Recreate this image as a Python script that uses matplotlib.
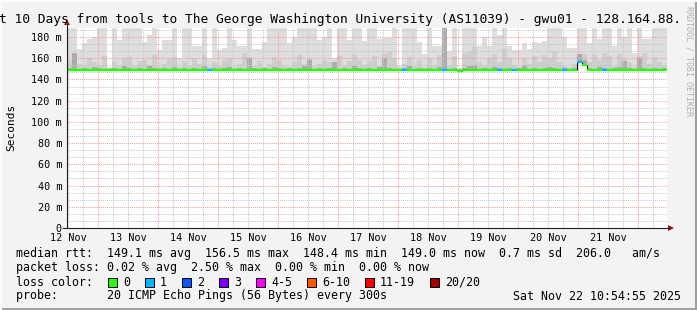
import matplotlib
matplotlib.use('Agg')
import matplotlib.pyplot as plt
from matplotlib.patches import Rectangle, Polygon
import numpy as np

# ---------------- data ----------------
title = "t 10 Days from tools to The George Washington University (AS11039) - gwu01 - 128.164.88."
day_labels = ["12 Nov", "13 Nov", "14 Nov", "15 Nov", "16 Nov", "17 Nov", "18 Nov", "19 Nov", "20 Nov", "21 Nov"]
day_label_pos = [12.5, 13.5, 14.5, 15.5, 16.5, 17.5, 18.5, 19.5, 20.5, 21.5]
y_ticks = [0, 20, 40, 60, 80, 100, 120, 140, 160, 180]
start_day = 12.479          # left edge of the graph (day of November)
step_days = 1 / 12          # 2 hour consolidation step

# smoke: top of lightest band (max ping, ms)
smoke_max = [
    195, 195, 169, 174, 178, 180, 195, 195, 152, 195, 177, 195,
    195, 195, 195, 175, 182, 195, 168, 177, 177, 195, 160, 195,
    195, 172, 172, 195, 160, 195, 168, 170, 195, 177, 172, 172,
    195, 169, 169, 175, 195, 195, 195, 195, 174, 180, 195, 195,
    195, 195, 177, 180, 195, 160, 195, 195, 177, 195, 195, 176,
    195, 195, 178, 179, 179, 195, 153, 195, 195, 195, 175, 164,
    195, 172, 172, 195, 167, 195, 151, 195, 195, 195, 172, 180,
    172, 195, 182, 195, 172, 168, 168, 174, 169, 175, 174, 176,
    195, 195, 195, 180, 170, 170, 195, 195, 174, 195, 178, 195,
    195, 172, 195, 180, 195, 165, 195, 178, 178, 195, 195, 195,
]
# smoke: top of medium band
smoke_mid = [
    158, 164, 155, 153, 160, 156, 153, 162, 151, 156, 153, 160,
    161, 153, 157, 158, 154, 163, 152, 155, 159, 161, 152, 157,
    153, 160, 155, 163, 152, 156, 153, 158, 160, 152, 155, 165,
    161, 153, 157, 152, 155, 161, 158, 153, 152, 156, 163, 155,
    160, 153, 155, 158, 156, 152, 162, 153, 157, 163, 158, 154,
    157, 162, 153, 164, 167, 160, 151, 155, 161, 153, 158, 152,
    160, 154, 163, 162, 153, 162, 150, 165, 167, 171, 156, 153,
    160, 164, 156, 169, 160, 154, 152, 160, 155, 162, 156, 163,
    160, 167, 156, 153, 152, 155, 162, 164, 156, 163, 158, 165,
    162, 153, 164, 160, 156, 152, 162, 165, 155, 160, 156, 154,
]
# smoke: top of dark band
smoke_dark = [
    151, 165, 150, 151, 150, 152, 151, 150, 150, 151, 150, 153,
    151, 150, 151, 150, 153, 151, 150, 151, 150, 152, 150, 151,
    150, 151, 150, 153, 150, 151, 150, 151, 152, 150, 151, 150,
    160, 151, 150, 151, 150, 152, 151, 150, 151, 150, 151, 153,
    158, 150, 151, 150, 151, 156, 150, 151, 150, 153, 151, 150,
    151, 150, 152, 160, 151, 150, 150, 151, 153, 150, 151, 150,
    151, 150, 152, 189, 150, 151, 150, 151, 153, 154, 150, 151,
    150, 152, 151, 150, 151, 150, 151, 153, 150, 151, 150, 151,
    152, 151, 150, 151, 150, 151, 164, 158, 151, 150, 152, 151,
    150, 151, 152, 157, 151, 150, 160, 151, 150, 151, 150, 151,
]
# median rtt (ms)
median = [
    149.0, 149.0, 149.0, 149.0, 149.0, 149.0, 149.0, 149.0, 149.0, 149.0, 149.0, 149.0,
    149.0, 149.0, 149.0, 149.0, 149.0, 149.0, 149.0, 149.0, 149.0, 149.0, 149.0, 149.0,
    149.0, 149.0, 149.0, 149.0, 149.0, 149.0, 149.0, 149.0, 149.0, 149.0, 149.0, 149.0,
    149.0, 149.0, 149.0, 149.0, 149.0, 149.0, 149.0, 149.0, 149.0, 149.0, 149.0, 149.0,
    149.0, 149.0, 149.0, 149.0, 149.0, 149.0, 149.0, 149.0, 149.0, 149.0, 149.0, 149.0,
    149.0, 149.0, 149.0, 149.0, 149.0, 149.0, 149.0, 149.0, 149.0, 149.0, 149.0, 149.0,
    149.0, 149.0, 149.0, 149.0, 149.0, 149.0, 148.4, 149.0, 149.0, 149.0, 149.0, 149.0,
    149.0, 149.0, 149.0, 149.0, 148.5, 149.0, 149.0, 149.0, 149.0, 149.0, 149.0, 149.0,
    149.0, 149.0, 149.0, 149.0, 149.0, 149.0, 156.5, 153.5, 149.0, 149.0, 149.0, 149.0,
    149.0, 149.0, 149.0, 149.0, 149.0, 149.0, 149.0, 149.0, 149.0, 149.0, 149.0, 149.0,
]
# lost pings out of 20 per step
loss = [
    0, 0, 0, 0, 0, 0, 0, 0, 0, 0, 0, 0,
    0, 0, 0, 0, 0, 0, 0, 0, 0, 0, 0, 0,
    0, 0, 0, 0, 1, 0, 0, 0, 0, 0, 0, 0,
    0, 0, 0, 0, 0, 0, 0, 0, 0, 0, 0, 0,
    0, 0, 0, 0, 0, 0, 0, 0, 0, 0, 0, 0,
    0, 0, 0, 0, 0, 0, 0, 1, 0, 0, 0, 0,
    0, 0, 0, 1, 0, 0, 0, 0, 0, 0, 0, 0,
    0, 0, 1, 0, 0, 1, 0, 0, 0, 0, 0, 0,
    0, 0, 0, 1, 0, 0, 1, 0, 0, 0, 0, 1,
    0, 0, 0, 0, 0, 0, 0, 0, 0, 0, 0, 0,
]
loss_labels = ["0", "1", "2", "3", "4-5", "6-10", "11-19", "20/20"]
loss_cols = ["#26ff00", "#00b8ff", "#0059ff", "#7e00ff", "#ff00ff", "#ff5500", "#ff0000", "#a10000"]

line1 = "median rtt:  149.1 ms avg  156.5 ms max  148.4 ms min  149.0 ms now  0.7 ms sd  206.0   am/s"
line2 = "packet loss: 0.02 % avg  2.50 % max  0.00 % min  0.00 % now"
line3 = "loss color:"
line4 = "probe:       20 ICMP Echo Pings (56 Bytes) every 300s"
stamp = "Sat Nov 22 10:54:55 2025"

# ---------------- figure ----------------
W, H = 697, 310
MONO = "DejaVu Sans Mono"
fig = plt.figure(figsize=(W / 100, H / 100), dpi=100, facecolor="#f3f3f3")


def fx(x):
    return x / W


def fy(y):
    return 1 - y / H


ax = fig.add_axes([fx(67), fy(228), 600 / W, 200 / H])
ax.set_facecolor("white")
ax.set_xlim(start_day, start_day + 10)
ax.set_ylim(0, 188.5)
for s in ax.spines.values():
    s.set_visible(False)

n = len(median)
lefts = start_day + np.arange(n) * step_days
med = np.array(median)

ax.bar(lefts, np.array(smoke_max) - med, bottom=med, width=step_days, align="edge",
       color="#dedede", linewidth=0, zorder=1)
ax.bar(lefts, np.array(smoke_mid) - med, bottom=med, width=step_days, align="edge",
       color="#cecece", linewidth=0, zorder=1.1)
ax.bar(lefts, np.array(smoke_dark) - med, bottom=med, width=step_days, align="edge",
       color="#ababab", linewidth=0, zorder=1.2)

# grid
minor_x = np.arange(np.ceil(start_day * 4) / 4, start_day + 10, 0.25)
for xv in minor_x:
    if abs(xv - round(xv)) > 1e-6:
        ax.axvline(xv, color="#c8c8c8", lw=0.75, ls=(0, (1, 1)), zorder=2)
for yv in np.arange(0, 189, 20 / 3):
    if abs(yv / 20 - round(yv / 20)) > 1e-6:
        ax.axhline(yv, color="#c8c8c8", lw=0.75, ls=(0, (1, 1)), zorder=2)
for xv in range(13, 23):
    ax.axvline(xv, color="#f0a0a0", lw=0.75, ls=(0, (1, 1)), zorder=2.1)
for yv in y_ticks[1:]:
    ax.axhline(yv, color="#f0a0a0", lw=0.75, ls=(0, (1, 1)), zorder=2.1)

# median line colored by loss
colors = [loss_cols[min(l, 7)] for l in loss]
ax.hlines(med, lefts, lefts + step_days, colors=colors, lw=1.7, zorder=4)
for i in range(1, n):
    if med[i] != med[i - 1]:
        ax.vlines(lefts[i], min(med[i], med[i - 1]), max(med[i], med[i - 1]),
                  colors="black", lw=0.8, zorder=3.9)

ax.set_yticks(y_ticks)
ax.set_yticklabels(["0" if v == 0 else f"{v} m" for v in y_ticks],
                   fontfamily=MONO, fontsize=7.3, color="#000000")
ax.set_xticks(day_label_pos)
ax.set_xticklabels(day_labels, fontfamily=MONO, fontsize=7.3, color="#000000")
ax.tick_params(axis="y", length=0, pad=3.6)
ax.tick_params(axis="x", length=0, pad=3.4)

# axes lines + arrows (figure pixel coords)
fig.add_artist(plt.Line2D([fx(67), fx(67)], [fy(228), fy(24)], color="#202020", lw=0.8))
fig.add_artist(plt.Line2D([fx(63), fx(670)], [fy(228), fy(228)], color="#202020", lw=0.8))
fig.add_artist(Polygon([[fx(64), fy(25)], [fx(70), fy(25)], [fx(67), fy(19)]],
                       closed=True, color="#9b1c1c", lw=0))
fig.add_artist(Polygon([[fx(668), fy(225)], [fx(668), fy(231)], [fx(674), fy(228)]],
                       closed=True, color="#9b1c1c", lw=0))

# title & labels
fig.text(fx(-1), fy(19), title, fontfamily=MONO, fontsize=9.3, ha="left", va="center", color="#000000")
fig.text(fx(11), fy(127), "Seconds", fontfamily=MONO, fontsize=8.0, rotation=90,
         ha="center", va="center", color="#000000")
fig.text(fx(689), fy(6), "RRDTOOL / TOBI OETIKER", fontfamily=MONO, fontsize=6.0, rotation=270,
         ha="center", va="top", color="#b0b0b0")

# legend lines
LF = 8.4
fig.text(fx(16), fy(254), line1, fontfamily=MONO, fontsize=LF, ha="left", va="center")
fig.text(fx(16), fy(268), line2, fontfamily=MONO, fontsize=LF, ha="left", va="center")
fig.text(fx(16), fy(282), line3, fontfamily=MONO, fontsize=LF, ha="left", va="center")
fig.text(fx(16), fy(296), line4, fontfamily=MONO, fontsize=LF, ha="left", va="center")
fig.text(fx(681), fy(296), stamp, fontfamily=MONO, fontsize=LF, ha="right", va="center")

bx = 108
for lab, col in zip(loss_labels, loss_cols):
    fig.add_artist(Rectangle((fx(bx), fy(286.5)), 8.5 / W, 9 / H, facecolor=col,
                             edgecolor="black", lw=0.7))
    fig.text(fx(bx + 15), fy(282), lab, fontfamily=MONO, fontsize=LF, ha="left", va="center")
    bx = bx + 15 + 7 * len(lab) + 15

# frame
fig.add_artist(Rectangle((0, 0), 1, 2 / H, facecolor="#a0a0a0", lw=0))
fig.add_artist(Rectangle((1 - 2 / W, 0), 2 / W, 1, facecolor="#a0a0a0", lw=0))
fig.add_artist(Rectangle((0, 1 - 2 / H), 1, 2 / H, facecolor="#fcfcfc", lw=0))
fig.add_artist(Rectangle((0, 0), 2 / W, 1, facecolor="#fcfcfc", lw=0))

fig.savefig("out.png", dpi=100, facecolor=fig.get_facecolor())
